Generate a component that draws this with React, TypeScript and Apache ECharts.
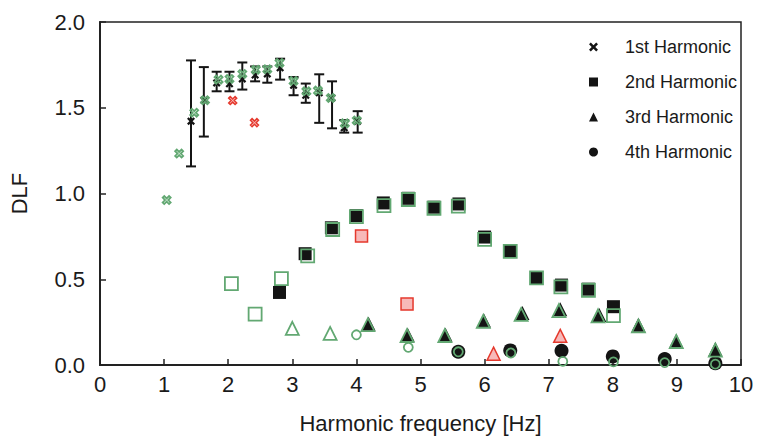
import React, { useEffect, useRef } from "react";
import * as echarts from "echarts";

// 1st harmonic: measured mean with min/max range
const h1Freq = [1.42, 1.62, 1.82, 2.02, 2.22, 2.42, 2.61, 2.81, 3.02, 3.21, 3.42, 3.62, 3.81, 4.02];
const h1Mean = [1.422, 1.544, 1.645, 1.64, 1.668, 1.691, 1.697, 1.733, 1.631, 1.573, 1.587, 1.557, 1.383, 1.422];
const h1Low = [1.158, 1.332, 1.596, 1.596, 1.606, 1.654, 1.646, 1.664, 1.573, 1.529, 1.412, 1.38, 1.355, 1.355];
const h1High = [1.776, 1.737, 1.71, 1.71, 1.764, 1.741, 1.741, 1.786, 1.679, 1.641, 1.695, 1.654, 1.428, 1.48];
// 1st harmonic: model values (green) and outliers (red)
const h1ModelFreq = [1.04, 1.235, 1.47, 1.638, 1.85, 2.02, 2.22, 2.43, 2.61, 2.8, 3.02, 3.22, 3.4, 3.6, 3.82, 4.005];
const h1Model = [0.962, 1.233, 1.471, 1.544, 1.664, 1.668, 1.697, 1.722, 1.725, 1.761, 1.656, 1.596, 1.6, 1.557, 1.409, 1.426];
const h1RedFreq = [2.07, 2.41];
const h1Red = [1.542, 1.413];

// 2nd harmonic
const h2Freq = [2.8, 3.2, 3.61, 4.0, 4.42, 4.81, 5.21, 5.6, 6.0, 6.4, 6.81, 7.2, 7.62, 8.01];
const h2Mean = [0.423, 0.649, 0.8, 0.871, 0.945, 0.972, 0.92, 0.939, 0.746, 0.665, 0.51, 0.466, 0.442, 0.34];
const h2ModelFreq = [2.05, 2.42, 2.83, 3.24, 3.63, 4.0, 4.43, 4.81, 5.21, 5.59, 6.0, 6.4, 6.81, 7.19, 7.62, 8.01];
const h2Model = [0.475, 0.297, 0.504, 0.636, 0.79, 0.865, 0.929, 0.965, 0.914, 0.926, 0.733, 0.662, 0.508, 0.456, 0.436, 0.288];
const h2RedFreq = [4.08, 4.79];
const h2Red = [0.752, 0.355];

// 3rd harmonic
const h3Freq = [4.19, 4.8, 5.39, 5.99, 6.59, 7.18, 7.79, 8.4, 8.99, 9.6];
const h3Mean = [0.24, 0.176, 0.176, 0.259, 0.303, 0.325, 0.292, 0.234, 0.141, 0.093];
const h3ModelFreq = [3.0, 3.59, 4.18, 4.79, 5.38, 5.98, 6.57, 7.16, 7.77, 8.4, 8.99, 9.6];
const h3Model = [0.214, 0.184, 0.235, 0.172, 0.172, 0.255, 0.295, 0.317, 0.287, 0.228, 0.137, 0.087];
const h3RedFreq = [6.14, 7.18];
const h3Red = [0.066, 0.17];

// 4th harmonic
const h4Freq = [5.59, 6.4, 7.2, 8.0, 8.81, 9.6];
const h4Mean = [0.077, 0.085, 0.083, 0.05, 0.035, 0.01];
const h4ModelFreq = [4.0, 4.81, 5.59, 6.41, 7.22, 8.01, 8.81, 9.6];
const h4Model = [0.176, 0.103, 0.077, 0.07, 0.021, 0.018, 0.014, 0.005];

const seriesNames = ["1st Harmonic", "2nd Harmonic", "3rd Harmonic", "4th Harmonic"];
const xTicks = [0, 10, 1];
const yTicks = [0, 2, 0.5];

const CROSS = "path://M0,2 L2,0 L5,3 L8,0 L10,2 L7,5 L10,8 L8,10 L5,7 L2,10 L0,8 L3,5 Z";
const BLACK = "#141414";
const GREEN = "#62a872";
const RED = "#e5392d";
const PINK = "#f7b9b9";
const FONT = "'Liberation Sans', Arial, sans-serif";

const pairs = (xs: number[], ys: number[]) => xs.map((x, i) => [x, ys[i]]);

export default function App() {
  const ref = useRef<HTMLDivElement>(null);

  useEffect(() => {
    if (!ref.current) return;
    const chart = echarts.init(ref.current, null, { renderer: "svg" });

    const black = (name: string, symbol: string, size: number, data: number[][]) => ({
      type: "scatter",
      name,
      symbol,
      symbolSize: size,
      data,
      z: 3,
      itemStyle: { color: BLACK, opacity: 1 },
    });
    const green = (symbol: string, size: number, data: number[][]) => ({
      type: "scatter",
      symbol,
      symbolSize: size,
      data,
      z: 4,
      itemStyle: { color: "rgba(255,255,255,0)", borderColor: GREEN, borderWidth: 1.8, opacity: 1 },
    });
    const red = (symbol: string, size: number, data: number[][]) => ({
      type: "scatter",
      symbol,
      symbolSize: size,
      data,
      z: 4,
      itemStyle: { color: PINK, borderColor: RED, borderWidth: 1.5, opacity: 1 },
    });

    const rangeData = h1Freq.map((x, i) => [x, h1Low[i], h1High[i]]);

    chart.setOption({
      animation: false,
      backgroundColor: "#ffffff",
      textStyle: { fontFamily: FONT },
      grid: {
        left: 96,
        right: 19,
        top: 22,
        bottom: 72,
        show: true,
        borderColor: "#222",
        borderWidth: 1.5,
      },
      legend: {
        left: 584,
        top: 33,
        orient: "vertical",
        itemWidth: 9,
        itemHeight: 9,
        itemGap: 17,
        selectedMode: false,
        textStyle: { fontSize: 18, color: "#1a1a1a", fontFamily: FONT, padding: [0, 0, 0, 22] },
        data: [
          { name: seriesNames[0], icon: CROSS, itemStyle: { color: BLACK } },
          { name: seriesNames[1], icon: "rect", itemStyle: { color: BLACK } },
          { name: seriesNames[2], icon: "triangle", itemStyle: { color: BLACK } },
          { name: seriesNames[3], icon: "circle", itemStyle: { color: BLACK } },
        ],
      },
      xAxis: {
        type: "value",
        min: xTicks[0],
        max: xTicks[1],
        interval: xTicks[2],
        name: "Harmonic frequency [Hz]",
        nameLocation: "middle",
        nameGap: 47,
        nameTextStyle: { fontSize: 22, color: "#1a1a1a", fontFamily: FONT },
        axisLine: { lineStyle: { color: "#222", width: 2 } },
        axisTick: { inside: true, length: 6, lineStyle: { color: "#222", width: 1.5 } },
        axisLabel: { fontSize: 22, color: "#1a1a1a", margin: 8, fontFamily: FONT },
        splitLine: { show: false },
      },
      yAxis: {
        type: "value",
        min: yTicks[0],
        max: yTicks[1],
        interval: yTicks[2],
        name: "DLF",
        nameLocation: "middle",
        nameGap: 70,
        nameRotate: 90,
        nameTextStyle: { fontSize: 22, color: "#1a1a1a", fontFamily: FONT },
        axisLine: { lineStyle: { color: "#222", width: 2 } },
        axisTick: { inside: true, length: 6, lineStyle: { color: "#222", width: 1.5 } },
        axisLabel: {
          fontSize: 22,
          color: "#1a1a1a",
          margin: 15,
          fontFamily: FONT,
          formatter: (v: number) => v.toFixed(1),
        },
        splitLine: { show: false },
      },
      series: [
        {
          type: "custom",
          name: "range",
          data: rangeData,
          encode: { x: 0, y: [1, 2] },
          z: 2,
          renderItem: (params: any, api: any) => {
            const x = api.value(0);
            const lo = api.coord([x, api.value(1)]);
            const hi = api.coord([x, api.value(2)]);
            const half = 5;
            const style = { stroke: BLACK, lineWidth: 2 };
            return {
              type: "group",
              children: [
                { type: "line", shape: { x1: lo[0], y1: lo[1], x2: hi[0], y2: hi[1] }, style },
                { type: "line", shape: { x1: lo[0] - half, y1: lo[1], x2: lo[0] + half, y2: lo[1] }, style },
                { type: "line", shape: { x1: hi[0] - half, y1: hi[1], x2: hi[0] + half, y2: hi[1] }, style },
              ],
            };
          },
        },
        black(seriesNames[0], CROSS, 8, pairs(h1Freq, h1Mean)),
        black(seriesNames[1], "rect", 13, pairs(h2Freq, h2Mean)),
        black(seriesNames[2], "triangle", 14, pairs(h3Freq, h3Mean)),
        black(seriesNames[3], "circle", 14, pairs(h4Freq, h4Mean)),
        green(CROSS, 8, pairs(h1ModelFreq, h1Model)),
        green("rect", 13, pairs(h2ModelFreq, h2Model)),
        green("triangle", 13, pairs(h3ModelFreq, h3Model)),
        green("circle", 9, pairs(h4ModelFreq, h4Model)),
        red(CROSS, 8, pairs(h1RedFreq, h1Red)),
        red("rect", 12, pairs(h2RedFreq, h2Red)),
        red("triangle", 13, pairs(h3RedFreq, h3Red)),
      ],
    });

    return () => chart.dispose();
  }, []);

  return (
    <div
      ref={ref}
      style={{ position: "fixed", left: 0, top: 0, width: 760, height: 439, background: "#fff" }}
    />
  );
}
